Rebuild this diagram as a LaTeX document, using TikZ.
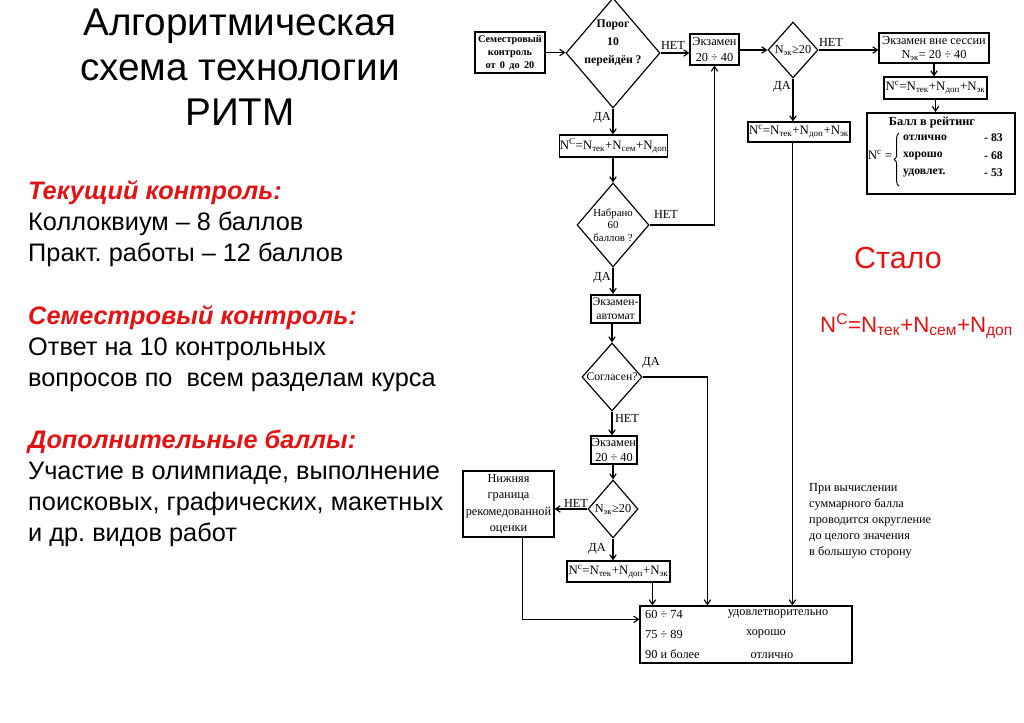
\documentclass[tikz,border=0pt]{standalone}
\usepackage{fontspec}
\setmainfont{Liberation Serif}
\newfontfamily\sansf{Liberation Sans}
\usetikzlibrary{shapes.geometric,arrows.meta,calc,decorations.pathreplacing}
\definecolor{myred}{RGB}{228,18,18}
\newcommand{\myfs}[2]{\fontsize{#1}{#2}\selectfont}
\frenchspacing
\begin{document}
\begin{tikzpicture}[x=0.03cm,y=-0.03cm,
  wh/.style 2 args={minimum width=#1*0.03cm, minimum height=#2*0.03cm},
  box/.style={draw, line width=1pt, inner sep=0pt, align=center, font=\myfs{10.5}{13}},
  thickbox/.style={box, line width=1.8pt},
  dia/.style={draw, diamond, line width=1pt, inner sep=0pt},
  conn/.style={line width=1pt},
  arr/.style={line width=1pt, -{Straight Barb[length=4pt,width=5.5pt]}},
  lab/.style={font=\myfs{10.5}{12}, inner sep=0pt},
  dtext/.style={align=center, inner sep=0pt},
  ltxt/.style={anchor=base west, font=\sansf\myfs{21.6}{26}, inner sep=0pt},
  lhead/.style={ltxt, font=\sansf\bfseries\itshape\myfs{21.6}{26}, text=myred},
  ttl/.style={anchor=base, font=\sansf\myfs{33}{39}, inner sep=0pt}
]
\useasboundingbox (0,0) rectangle (1024,723);
\fill[white] (0,0) rectangle (1024,723);

% ---- title and left text ----
\node[ttl] (t1) at (240,35) {Алгоритмическая};
\node[ttl] (t2) at (240,80.5) {схема технологии};
\node[ttl] (t3) at (240,125.5) {РИТМ};

\node[lhead] (h1) at (28,199) {Текущий контроль:};
\node[ltxt] (l1) at (28,230) {Коллоквиум – 8 баллов};
\node[ltxt] (l2) at (28,261) {Практ. работы – 12 баллов};
\node[lhead] (h2) at (28,324) {Семестровый контроль:};
\node[ltxt] (l3) at (28,355) {Ответ на 10 контрольных};
\node[ltxt] (l4) at (28,386) {вопросов по \ всем разделам курса};
\node[lhead] (h3) at (28,448) {Дополнительные баллы:};
\node[ltxt] (l5) at (28,479) {Участие в олимпиаде, выполнение};
\node[ltxt] (l6) at (28,510) {поисковых, графических, макетных};
\node[ltxt] (l7) at (28,541) {и др. видов работ};

\node[anchor=base, text=myred, font=\sansf\myfs{26}{30}, inner sep=0pt] (st) at (898,268) {Стало};
\node[anchor=base west, text=myred, font=\sansf\myfs{19}{22}, inner sep=0pt] (sf) at (820,332)
  {N\textsuperscript{C}=N\textsubscript{тек}+N\textsubscript{сем}+N\textsubscript{доп}};

% ---- flowchart nodes ----
\node[box, wh={70}{41}, font=\bfseries\myfs{8.8}{11.2}] (sem) at (510,52.5) {Семестровый\\контроль\\от \,0 \,до \,20};
\node[dia, wh={94}{110}] (d1) at (613,53) {};
\node[dtext, font=\bfseries\myfs{10}{15.5}] (d1t) at (613,43) {Порог\\10\\перейдён ?};

\node[box, wh={49}{31}] (e1) at (714.5,49.5) {Экзамен\\20 ÷ 40};
\node[dia, wh={50}{56}] (d2) at (793,50) {};
\node[dtext, font=\myfs{10.5}{12}] (d2t) at (793,50) {N\textsubscript{эк}≥20};

\node[box, wh={110}{30}, font=\myfs{10.5}{12}] (evs) at (934,48) {Экзамен вне сессии\\N\textsubscript{эк}= 20 ÷ 40};
\node[box, wh={103}{22}, font=\myfs{11}{13}] (f3) at (935.5,88) {N\textsuperscript{c}=N\textsubscript{тек}+N\textsubscript{доп}+N\textsubscript{эк}};
\node[thickbox, wh={148}{81}] (rat) at (941,153.5) {};
\node[inner sep=0pt, font=\bfseries\myfs{10.5}{12}] (ratt) at (932,123) {Балл в рейтинг};
\node[inner sep=0pt, font=\myfs{11}{13}] (ratn) at (880,155) {N\textsuperscript{c} =};
\draw[line width=0.8pt, decorate, decoration={brace, amplitude=4pt}] (899,186) -- (899,133);
\node[anchor=west, inner sep=0pt, font=\bfseries\myfs{10}{12}] (r1a) at (903,138) {отлично};
\node[anchor=west, inner sep=0pt, font=\bfseries\myfs{10}{12}] (r2a) at (903,156) {хорошо};
\node[anchor=west, inner sep=0pt, font=\bfseries\myfs{10}{12}] (r3a) at (903,173) {удовлет.};
\node[anchor=east, inner sep=0pt, font=\bfseries\myfs{10}{12}] (r1b) at (1003,138) {- 83};
\node[anchor=east, inner sep=0pt, font=\bfseries\myfs{10}{12}] (r2b) at (1003,156) {- 68};
\node[anchor=east, inner sep=0pt, font=\bfseries\myfs{10}{12}] (r3b) at (1003,173) {- 53};

\node[box, wh={102}{20}, font=\myfs{11}{13}] (f2) at (799,132) {N\textsuperscript{c}=N\textsubscript{тек}+N\textsubscript{доп}+N\textsubscript{эк}};
\node[box, wh={107}{22}, font=\myfs{11}{13}] (f1) at (613.5,146) {N\textsuperscript{C}=N\textsubscript{тек}+N\textsubscript{сем}+N\textsubscript{доп}};

\node[dia, wh={72}{84}] (d3) at (613,225) {};
\node[dtext, font=\myfs{9.2}{10.5}] (d3t) at (613,225) {Набрано\\60\\баллов ?};

\node[thickbox, wh={49}{28}, font=\myfs{10}{12}] (aut) at (615.5,309) {Экзамен-\\автомат};

\node[dia, wh={60}{68}] (d4) at (612,377) {};
\node[dtext, font=\myfs{10}{12}] (d4t) at (612,377) {Согласен?};

\node[box, wh={46}{28}, font=\myfs{10.5}{12}] (e2) at (614,450) {Экзамен\\20 ÷ 40};

\node[dia, wh={50}{58}] (d5) at (613,509) {};
\node[dtext, font=\myfs{10.5}{12}] (d5t) at (613,509) {N\textsubscript{эк}≥20};

\node[box, wh={91}{66}, font=\myfs{10.5}{14}] (low) at (508.5,504) {Нижняя\\граница\\рекомедованной\\оценки};

\node[box, wh={103}{21}, font=\myfs{11}{13}] (f4) at (618.5,571.5) {N\textsuperscript{c}=N\textsubscript{тек}+N\textsubscript{доп}+N\textsubscript{эк}};

\node[box, wh={212}{57}] (res) at (746,634.5) {};
\node[anchor=west, inner sep=0pt, font=\myfs{10.5}{12}] (ra1) at (645,614) {60 ÷ 74};
\node[anchor=west, inner sep=0pt, font=\myfs{10.5}{12}] (ra2) at (645,634) {75 ÷ 89};
\node[anchor=west, inner sep=0pt, font=\myfs{10.5}{12}] (ra3) at (645,654) {90 и более};
\node[inner sep=0pt, font=\myfs{10.5}{12}] (rb1) at (778,614) {удовлетворительно};
\node[inner sep=0pt, font=\myfs{10.5}{12}] (rb2) at (766,634) {хорошо};
\node[inner sep=0pt, font=\myfs{10.5}{12}] (rb3) at (772,656) {отлично};

\node[anchor=north west, align=left, inner sep=0pt, font=\myfs{10.5}{13.8}] (note) at (809,483)
  {При вычислении\\суммарного балла\\проводится округление\\до целого значения\\в большую сторону};

% ---- labels ----
\node[lab] at (673,45) {НЕТ};
\node[lab] at (602,118) {ДА};
\node[lab] at (831,42) {НЕТ};
\node[lab] at (782,87) {ДА};
\node[lab] at (666,214) {НЕТ};
\node[lab] at (602,278) {ДА};
\node[lab] at (651,363) {ДА};
\node[lab] at (627,418) {НЕТ};
\node[lab] at (576,503) {НЕТ};
\node[lab] at (597,549) {ДА};

% ---- helper coordinates ----
\coordinate (rA) at ($(res.north west)+(13,0)$);
\coordinate (rB) at ($(res.north west)+(68,0)$);
\coordinate (rC) at ($(res.north west)+(153,0)$);
\coordinate (rD) at ($(res.north west)+(0,14)$);
\coordinate (lo) at ($(low.south west)+(60,0)$);

% ---- connectors ----
\draw[arr] (sem.east) -- (sem.east -| d1.west);
\draw[arr] (d1.east) -- (d1.east -| e1.west);
\draw[arr] (d2.west -| e1.east) -- (d2.west);
\draw[arr] (d2.east) -- (d2.east -| evs.west);
\draw[arr] (evs.south) -- (evs.south |- f3.north);
\draw[arr] (f3.south) -- (f3.south |- rat.north);
\draw[arr] (d2.south) -- (d2.south |- f2.north);
\draw[arr] (rC |- f2.south) -- (rC);
\draw[arr] (d1.south) -- (d1.south |- f1.north);
\draw[arr] (d3.north |- f1.south) -- (d3.north);
\draw[arr] (d3.east) -| (e1.south);
\draw[arr] (d3.south) -- (d3.south |- aut.north);
\draw[arr] (d4.north |- aut.south) -- (d4.north);
\draw[arr] (d4.east) -| (rB);
\draw[arr] (d4.south) -- (d4.south |- e2.north);
\draw[arr] (d5.north |- e2.south) -- (d5.north);
\draw[arr] (d5.west) -- (d5.west -| low.east);
\draw[arr] (d5.south) -- (d5.south |- f4.north);
\draw[arr] (rA |- f4.south) -- (rA);
\draw[arr] (lo) |- (rD);
\end{tikzpicture}
\end{document}
